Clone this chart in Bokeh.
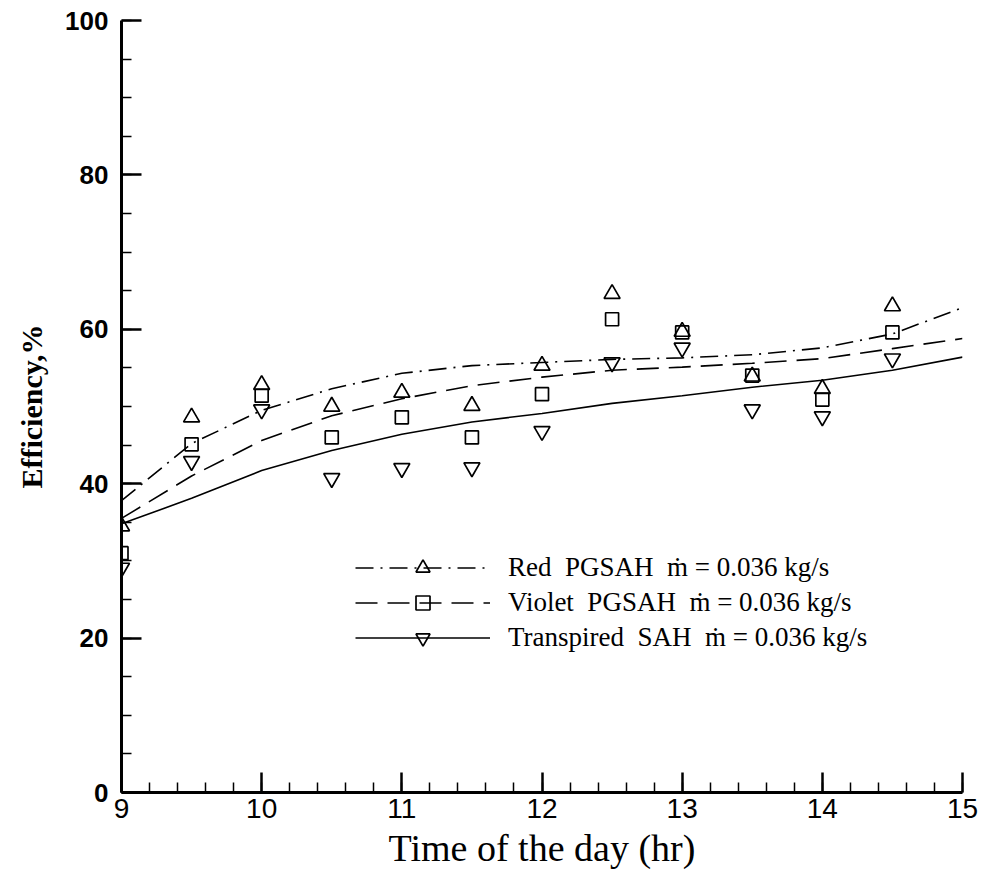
from bokeh.plotting import figure
from bokeh.models import Range1d, FixedTicker, Legend, LegendItem
from bokeh.embed import file_html
from bokeh.resources import INLINE

# ---- data ----
hours = [9, 9.5, 10, 10.5, 11, 11.5, 12, 12.5, 13, 13.5, 14, 14.5]
red_pts = [34.5, 48.6, 52.8, 50.0, 51.8, 50.1, 55.3, 64.6, 59.7, 53.9, 52.3, 63.0]
violet_pts = [31.0, 45.1, 51.4, 46.0, 48.6, 46.0, 51.6, 61.3, 59.6, 54.0, 50.9, 59.6]
transp_pts = [29.1, 42.9, 49.6, 40.7, 42.0, 42.1, 46.8, 55.7, 57.6, 49.6, 48.7, 56.2]

fit_hours = [9, 9.5, 10, 10.5, 11, 11.5, 12, 12.5, 13, 13.5, 14, 14.5, 15]
red_fit = [37.8, 45.2, 49.5, 52.3, 54.3, 55.3, 55.7, 56.1, 56.3, 56.7, 57.6, 59.4, 62.8]
violet_fit = [35.5, 41.0, 45.6, 48.8, 51.0, 52.7, 53.8, 54.7, 55.1, 55.6, 56.2, 57.5, 58.8]
transp_fit = [34.8, 38.1, 41.7, 44.3, 46.4, 48.0, 49.1, 50.4, 51.4, 52.5, 53.4, 54.7, 56.4]

labels = [
    "Red\u00a0 PGSAH\u00a0 \u1e41 = 0.036 kg/s",
    "Violet\u00a0 PGSAH\u00a0 \u1e41 = 0.036 kg/s",
    "Transpired\u00a0 SAH\u00a0 \u1e41 = 0.036 kg/s",
]
x_ticks = [9, 10, 11, 12, 13, 14, 15]
y_ticks = [0, 20, 40, 60, 80, 100]

p = figure(width=983, height=880, output_backend="svg", toolbar_location=None,
           x_range=Range1d(9, 15), y_range=Range1d(0, 100),
           min_border_left=121, min_border_right=21, min_border_top=20, min_border_bottom=88)
p.outline_line_color = None
p.xgrid.visible = False
p.ygrid.visible = False
p.background_fill_color = "white"
p.border_fill_color = "white"

series = [
    (red_fit, red_pts, "triangle", "18 7 2 7", 16),
    (violet_fit, violet_pts, "square", "22 10", 13),
    (transp_fit, transp_pts, "inverted_triangle", "solid", 16),
]

items = []
for (fit, pts, marker, dash, size), lab in zip(series, labels):
    lr = p.line(fit_hours, fit, line_color="black", line_width=1.6, line_dash=dash)
    sr = p.scatter(hours, pts, marker=marker, size=size, fill_color=None,
                   line_color="black", line_width=1.7)
    items.append(LegendItem(label=lab, renderers=[lr, sr]))

legend = Legend(items=items, location=(234, 137), glyph_width=135, glyph_height=35,
                label_height=35, label_standoff=18, spacing=0, padding=0, margin=0,
                border_line_alpha=0, background_fill_alpha=0,
                label_text_font="Liberation Serif", label_text_font_size="27px",
                label_text_color="black")
p.add_layout(legend)

for ax in (p.xaxis[0], p.yaxis[0]):
    ax.axis_line_width = 3
    ax.axis_line_color = "black"
    ax.major_tick_in = 20
    ax.major_tick_out = 0
    ax.minor_tick_in = 10
    ax.minor_tick_out = 0
    ax.major_tick_line_width = 2.5
    ax.minor_tick_line_width = 1.5
    ax.major_tick_line_color = "black"
    ax.minor_tick_line_color = "black"
    ax.major_label_text_color = "black"
    ax.axis_label_text_color = "black"
    ax.axis_label_text_font_style = "normal"

p.xaxis.ticker = FixedTicker(ticks=x_ticks, minor_ticks=[9 + 0.2 * i for i in range(31)])
p.yaxis.ticker = FixedTicker(ticks=y_ticks, minor_ticks=[5 * i for i in range(21)])

p.xaxis.axis_label = "Time of the day (hr)"
p.xaxis.axis_label_text_font = "Liberation Serif"
p.xaxis.axis_label_text_font_size = "38px"
p.xaxis.axis_label_standoff = 6
p.xaxis.major_label_text_font = "Liberation Sans"
p.xaxis.major_label_text_font_size = "28px"
p.xaxis.major_label_standoff = 6

p.yaxis.axis_label = "Efficiency,%"
p.yaxis.axis_label_text_font = "Liberation Serif"
p.yaxis.axis_label_text_font_size = "30px"
p.yaxis.axis_label_text_font_style = "bold"
p.yaxis.axis_label_standoff = 14
p.yaxis.major_label_text_font = "Liberation Sans"
p.yaxis.major_label_text_font_size = "26px"
p.yaxis.major_label_text_font_style = "bold"
p.yaxis.major_label_standoff = 13

open("out.html", "w").write(file_html(p, INLINE))
